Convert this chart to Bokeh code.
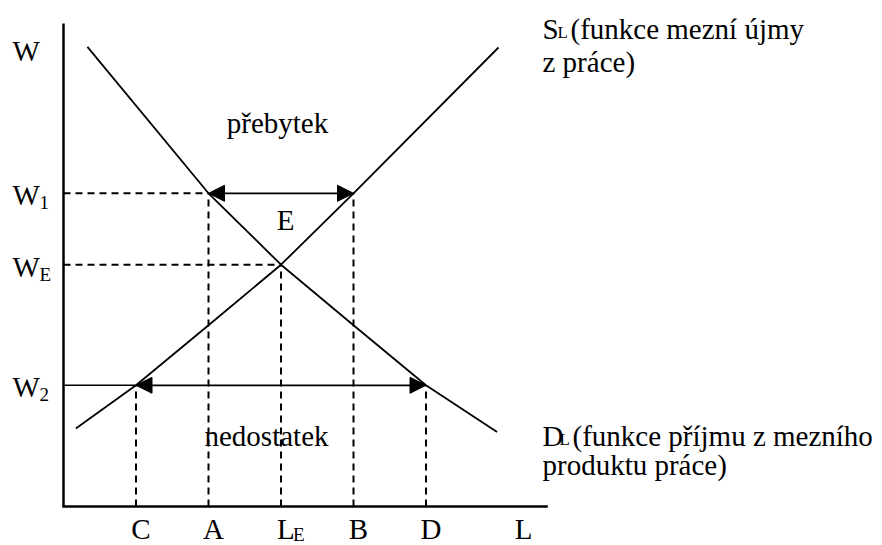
from bokeh.plotting import figure
from bokeh.models import Range1d, Arrow, NormalHead, ColumnDataSource
from bokeh.core.properties import value
from bokeh.embed import file_html
from bokeh.resources import INLINE

# ---------------- data ----------------
L_names = ["C", "A", "L_E", "B", "D"]
L_pos = [1.0, 2.0, 3.0, 4.0, 5.0]          # positions on the L axis
W_names = ["W1", "WE", "W2"]
W_levels = [5.22, 4.03, 2.02]              # W1, WE, W2

supply_x = [0.17, 1.0, 2.0, 3.0, 4.0, 6.0]
supply_y = [1.30, 2.02, 3.02, 4.03, 5.22, 7.65]
demand_x = [0.33, 2.0, 3.0, 4.0, 5.0, 5.98]
demand_y = [7.66, 5.22, 4.03, 3.02, 2.02, 1.24]

axis_x_max = 6.68
axis_y_max = 8.05

C, A, LE, B, D = L_pos
W1, WE, W2 = W_levels

# ---------------- figure ----------------
XU, YU = 72.5, 60.0            # pixels per data unit
X0, Y0 = 63.0, 506.0           # pixel of the origin inside the canvas
W_PX, H_PX = 882, 545

p = figure(width=W_PX, height=H_PX, output_backend="svg", toolbar_location=None,
           x_range=Range1d(-X0 / XU, (W_PX - X0) / XU),
           y_range=Range1d(-(H_PX - Y0) / YU, Y0 / YU),
           x_axis_type=None, y_axis_type=None, min_border=0)
p.grid.visible = False
p.outline_line_color = None
p.background_fill_color = "white"
p.border_fill_color = "white"

def dx(px):   # reference-pixel x -> data x
    return (px - X0) / XU

def dy(py):   # reference-pixel y -> data y
    return (Y0 - py) / YU

FONT = value("Liberation Serif")
BLACK = "black"
DASH = "7 5"

# axes
p.line(x=[0, 0, axis_x_max], y=[axis_y_max, 0, 0], line_color=BLACK,
       line_width=2.5, line_join="miter")

# dashed verticals from the axis up to the levels
vert_top = [W2, W1, WE, W1, W2]
p.segment(x0=L_pos, y0=[0] * 5, x1=L_pos, y1=vert_top, line_color=BLACK,
          line_width=2, line_dash=DASH)

# dashed horizontals for W1 and WE
p.segment(x0=[0, 0], y0=[W1, WE], x1=[A, LE], y1=[W1, WE], line_color=BLACK,
          line_width=2, line_dash=DASH)
# solid horizontal for W2 up to C
p.segment(x0=[0], y0=[W2], x1=[C], y1=[W2], line_color=BLACK, line_width=1.6)

# curves
p.line(supply_x, supply_y, line_color=BLACK, line_width=1.8)
p.line(demand_x, demand_y, line_color=BLACK, line_width=1.8)

# double arrows
arr_src = ColumnDataSource(dict(x0=[A, C], y0=[W1, W2], x1=[B, D], y1=[W1, W2]))
p.add_layout(Arrow(x_start="x0", y_start="y0", x_end="x1", y_end="y1", source=arr_src,
                   line_color=BLACK, line_width=1.8,
                   start=NormalHead(size=16, fill_color=BLACK, line_color=BLACK, line_width=1),
                   end=NormalHead(size=16, fill_color=BLACK, line_color=BLACK, line_width=1)))

# ---------------- texts ----------------
MAIN, SUB = 29, 19

def txt(x, y, s, size=MAIN, align="left", xo=0, yo=0):
    # yo is the pixel offset of the baseline; text is placed by its middle
    p.text(x=[x], y=[y], text=[s], text_font=FONT, text_font_size=f"{size}px",
           text_color=BLACK, text_align=align, text_baseline="middle",
           x_offset=xo, y_offset=yo - 0.34 * size)

# y axis title
txt(dx(12), dy(60), "W")
# level labels
for lvl, sub in zip(W_levels, ["1", "E", "2"]):
    txt(dx(12), lvl, "W", yo=12)
    txt(dx(12), lvl, sub, size=SUB, xo=27, yo=16)

# x axis labels
for pos, name in zip(L_pos, L_names):
    if name == "L_E":
        txt(pos, 0, "L", xo=-4, yo=32)
        txt(pos, 0, "E", size=SUB, xo=12, yo=34)
    else:
        txt(pos, 0, name, align="center", xo=5, yo=32)
txt(dx(523), 0, "L", align="center", yo=32)

# region texts
txt(dx(277), dy(132), "přebytek", align="center")
txt(dx(285), dy(229), "E", align="center")
txt(dx(266), dy(445), "nedostatek", align="center")

# curve labels
txt(dx(542), dy(38), "S")
txt(dx(542), dy(38), "L", size=17, xo=15)
txt(dx(542), dy(38), "(funkce mezní újmy", xo=28)
txt(dx(542), dy(71), "z práce)")

txt(dx(542), dy(445), "D")
txt(dx(542), dy(445), "L", size=17, xo=17)
txt(dx(542), dy(445), "(funkce příjmu z mezního", xo=30)
txt(dx(542), dy(474), "produktu práce)")

open("out.html", "w").write(file_html(p, INLINE))
